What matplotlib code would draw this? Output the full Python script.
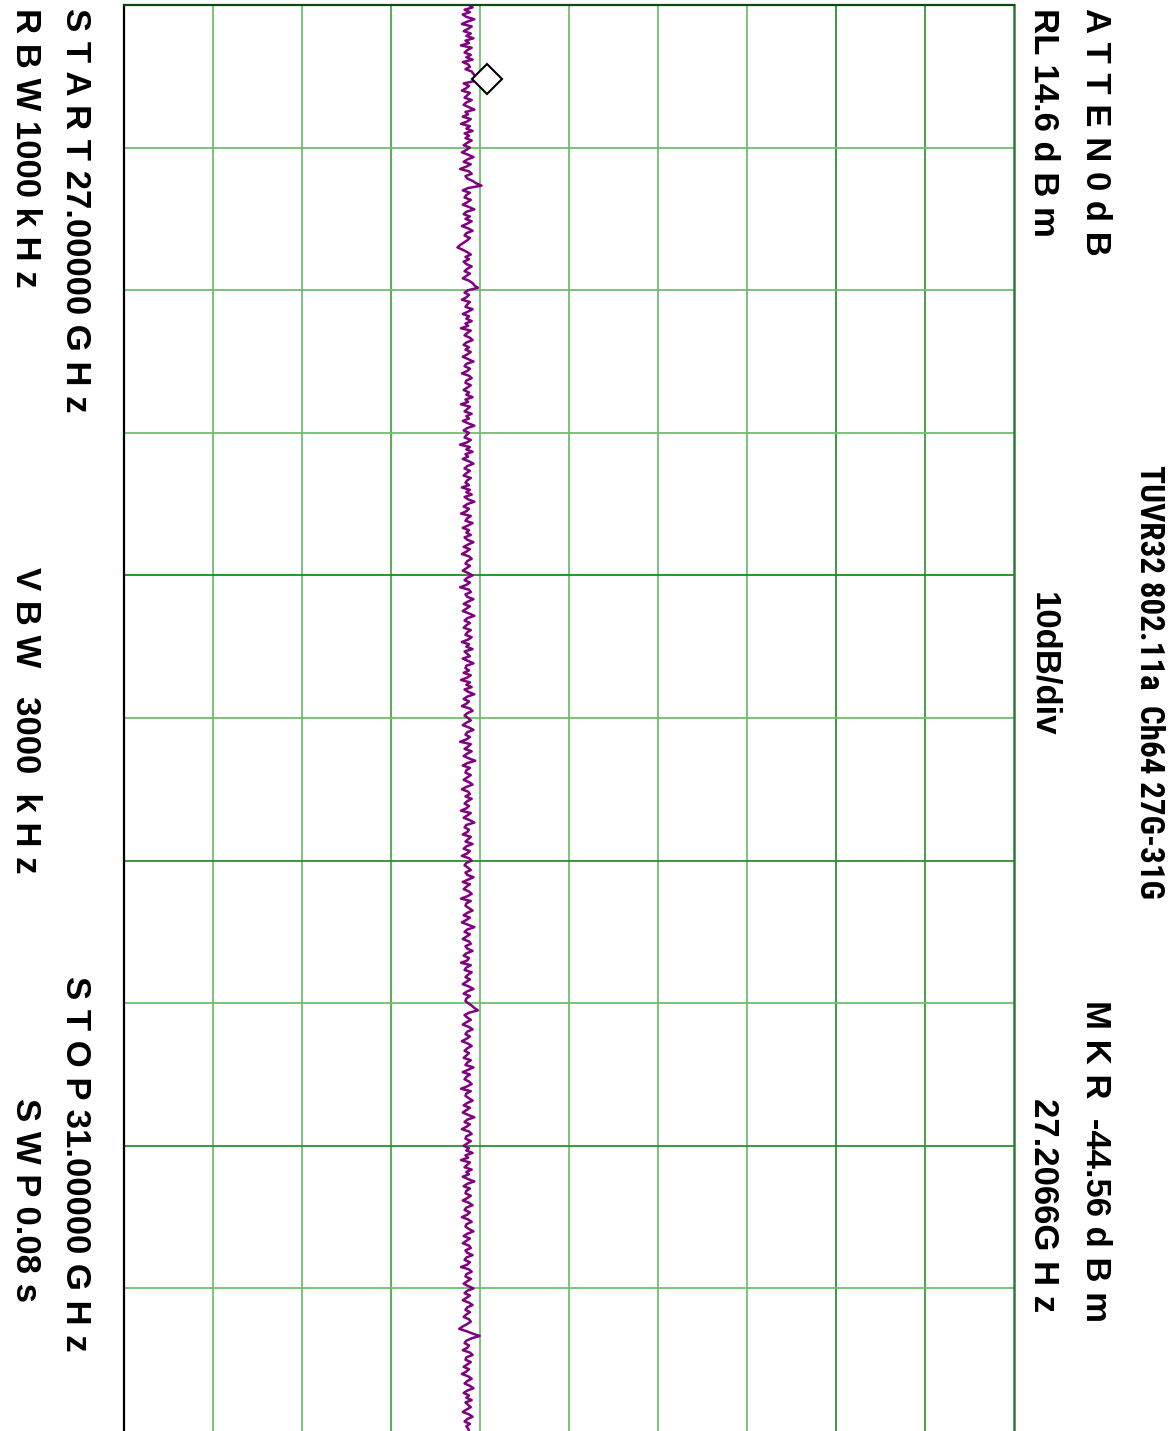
import numpy as np
import matplotlib
matplotlib.use("Agg")
import matplotlib.pyplot as plt
from matplotlib import font_manager
from matplotlib.font_manager import FontProperties

# ---- sweep settings -------------------------------------------------------
START_GHZ = 27.0
STOP_GHZ = 31.0
REF_LEVEL_DBM = 14.6
DB_PER_DIV = 10.0
N_DIV = 10
MARKER_FREQ_GHZ = 27.2066
MARKER_LEVEL_DBM = -44.56

title_text = "TUVR32 802.11a  Ch64 27G-31G"
start_text = "S T A R T 27.00000 G H z"
stop_text = "S T O P 31.00000 G H z"
rbw_text = "R B W 1000 k H z"
vbw_text = "V B W   3000  k H z"
swp_text = "S W P 0.08 s"
atten_text = "A T T E N 0 d B"
rl_text = "RL 14.6 d B m"
scale_text = "10dB/div"
mkr_text = "M K R  -44.56 d B m"
mkr_freq_text = "27.2066G H z"

# measured trace (dBm), 601 sweep points
trace_dbm = [
    -46.6, -46.2, -47.1, -46.5, -47.3, -46.9, -46.0, -46.8, -47.4, -46.3, -46.7, -47.2, -46.4, -46.9, -46.1, -47.0, -46.6, -47.5, -46.3, -46.8,
    -47.1, -46.4, -46.9, -46.2, -47.3, -46.7, -46.5, -47.0, -46.3, -46.1, -45.9, -44.56, -46.0, -47.2, -46.6, -46.9, -47.4, -46.5, -46.8, -47.1,
    -46.3, -46.9, -47.2, -46.6, -46.0, -47.0, -46.7, -47.3, -46.4, -46.8, -47.5, -46.5, -46.9, -46.2, -47.1, -46.6, -47.0, -46.3, -46.8, -47.2,
    -46.5, -46.9, -47.4, -46.7, -46.1, -46.8, -47.2, -46.4, -46.9, -47.6, -46.6, -46.3, -47.0, -46.8, -46.2, -45.8, -45.2, -46.7, -47.3, -46.5,
    -46.9, -47.1, -46.4, -46.8, -47.3, -46.6, -46.0, -46.9, -47.2, -46.5, -47.0, -46.3, -46.8, -47.4, -46.7, -46.2, -46.9, -47.1, -46.5, -46.8,
    -47.2, -47.6, -47.9, -47.3, -46.8, -46.4, -47.0, -46.6, -47.2, -46.9, -46.3, -46.8, -47.1, -46.5, -46.9, -47.3, -46.6, -46.2, -46.0, -45.6,
    -46.7, -47.1, -46.6, -46.9, -47.4, -46.5, -46.8, -47.0, -46.2, -46.7, -47.3, -46.6, -46.9, -46.3, -47.0, -46.7, -47.5, -46.4, -46.8, -47.1,
    -46.5, -46.2, -46.9, -47.2, -46.6, -47.0, -46.4, -46.8, -47.3, -46.7, -46.1, -46.9, -47.1, -46.5, -46.8, -47.4, -46.6, -46.3, -46.9, -47.0,
    -46.4, -46.8, -47.2, -46.6, -46.9, -46.2, -47.0, -46.7, -47.5, -46.5, -46.8, -47.1, -46.3, -46.9, -46.6, -47.3, -46.7, -46.0, -46.8, -47.2,
    -46.6, -46.9, -47.1, -46.4, -46.8, -47.6, -46.5, -46.9, -46.2, -47.0, -46.7, -47.3, -46.6, -46.1, -46.8, -47.1, -46.5, -46.9, -47.2, -46.4,
    -46.8, -47.0, -46.6, -47.4, -46.5, -46.9, -46.3, -47.1, -46.7, -46.0, -46.8, -47.2, -46.6, -46.9, -47.5, -46.4, -46.8, -47.0, -46.2, -46.7,
    -47.3, -46.6, -46.9, -46.4, -47.1, -46.8, -46.1, -46.7, -47.2, -46.5, -46.9, -47.4, -46.6, -46.3, -46.8, -47.0, -46.5, -46.9, -47.3, -46.7,
    -46.2, -46.8, -47.1, -46.5, -46.9, -47.6, -46.6, -46.4, -47.0, -46.8, -46.1, -46.7, -47.2, -46.5, -46.9, -47.3, -46.6, -46.0, -46.8, -47.1,
    -46.5, -46.9, -47.2, -46.4, -46.8, -47.0, -46.3, -46.7, -47.4, -46.6, -46.9, -46.2, -47.1, -46.8, -46.5, -47.3, -46.7, -46.1, -46.9, -47.0,
    -46.6, -47.2, -46.4, -46.8, -47.5, -46.5, -46.9, -46.3, -47.1, -46.7, -46.0, -46.8, -47.2, -46.6, -46.9, -47.4, -46.5, -46.2, -46.8, -47.1,
    -46.7, -46.4, -46.9, -47.3, -46.6, -46.1, -46.8, -47.0, -46.5, -46.9, -47.6, -46.4, -46.7, -47.1, -46.3, -46.8, -47.2, -46.6, -45.9, -46.8,
    -47.3, -46.5, -46.9, -47.0, -46.4, -46.8, -47.2, -46.6, -46.2, -46.9, -47.4, -46.7, -46.5, -47.0, -46.3, -46.8, -47.1, -46.6, -46.9, -47.5,
    -46.4, -46.8, -47.2, -46.5, -46.0, -46.9, -47.1, -46.6, -46.8, -47.3, -46.4, -46.7, -47.0, -46.2, -46.9, -47.2, -46.5, -46.8, -47.4, -46.6,
    -46.3, -46.9, -47.1, -46.7, -46.4, -47.0, -46.8, -46.1, -46.7, -47.3, -46.5, -46.9, -47.2, -46.6, -46.3, -46.8, -47.5, -46.4, -46.9, -47.0,
    -46.6, -46.2, -46.8, -47.2, -46.5, -46.9, -47.4, -46.7, -46.0, -46.8, -47.1, -46.5, -46.9, -47.3, -46.6, -46.4, -47.0, -46.8, -46.2, -46.9,
    -47.2, -46.6, -46.8, -47.5, -46.4, -46.9, -47.1, -46.3, -46.7, -47.0, -46.5, -46.9, -47.3, -46.6, -46.1, -46.8, -47.2, -46.5, -46.9, -47.0,
    -46.7, -46.3, -46.0, -45.6, -46.6, -47.1, -46.8, -46.4, -46.9, -47.3, -46.6, -46.2, -46.8, -47.0, -46.5, -46.9, -47.4, -46.7, -46.3, -46.8,
    -47.1, -46.6, -46.9, -47.2, -46.4, -46.8, -47.0, -46.1, -46.7, -47.3, -46.5, -46.9, -47.1, -46.6, -46.3, -46.8, -47.5, -46.4, -46.9, -47.0,
    -46.6, -46.2, -46.8, -47.2, -46.5, -46.9, -47.3, -46.7, -46.0, -46.8, -47.1, -46.5, -46.9, -47.4, -46.6, -46.3, -46.9, -47.0, -46.4, -46.8,
    -47.2, -46.6, -46.9, -46.2, -47.0, -46.7, -47.5, -46.5, -46.8, -47.1, -46.3, -46.9, -46.6, -47.3, -46.7, -46.0, -46.8, -47.2, -46.5, -46.9,
    -47.0, -46.4, -46.8, -47.3, -46.6, -46.2, -46.9, -47.1, -46.5, -46.8, -47.4, -46.7, -46.3, -46.9, -47.0, -46.6, -46.1, -46.8, -47.2, -46.5,
    -46.9, -47.3, -46.6, -46.4, -47.0, -46.8, -46.2, -46.9, -47.1, -46.5, -46.8, -47.5, -46.6, -46.3, -46.9, -47.0, -46.4, -46.8, -47.2, -46.7,
    -46.1, -46.8, -47.1, -46.5, -46.9, -47.3, -46.6, -46.2, -46.8, -47.0, -46.5, -46.9, -47.2, -46.6, -46.4, -46.8, -47.3, -47.7, -46.9, -46.2,
    -45.4, -46.3, -46.9, -47.1, -46.6, -46.8, -47.3, -46.5, -46.2, -46.9, -47.0, -46.4, -46.8, -47.2, -46.6, -46.9, -47.4, -46.7, -46.3, -46.8,
    -47.1, -46.5, -46.1, -46.8, -47.2, -46.6, -46.9, -46.3, -47.0, -46.7, -46.4, -46.9, -47.3, -46.6, -46.2, -46.8, -47.1, -46.5, -46.9, -46.7,
    -46.6,
]

freq_ghz = np.linspace(START_GHZ, STOP_GHZ, len(trace_dbm))

# ---- figure ---------------------------------------------------------------
W, H, DPI = 1168, 1431, 100
fig = plt.figure(figsize=(W / DPI, H / DPI), dpi=DPI)
fig.patch.set_facecolor("white")

# screen laid on its side: amplitude runs left->right, frequency top->bottom
ax_left, ax_right = 123.5 / W, 1014.0 / W
ax_top = 1 - 5.0 / H
ax = fig.add_axes([ax_left, 0.0, ax_right - ax_left, ax_top])

bottom_dbm = REF_LEVEL_DBM - N_DIV * DB_PER_DIV
ax.set_xlim(bottom_dbm, REF_LEVEL_DBM)
ax.set_ylim(STOP_GHZ, START_GHZ)
ax.set_xticks([])
ax.set_yticks([])

# graticule
amp_lines = [bottom_dbm + i * DB_PER_DIV for i in range(1, N_DIV)]
amp_colors = ["#6fbf6f", "#6fbf6f", "#4aa64a", "#6fbf6f", "#6fbf6f",
              "#6fbf6f", "#6fbf6f", "#2a922a", "#3c9a3c"]
for v, c in zip(amp_lines, amp_colors):
    ax.axvline(v, color=c, lw=1.3, zorder=1)

freq_step = (STOP_GHZ - START_GHZ) / N_DIV
freq_lines = [START_GHZ + i * freq_step for i in range(1, N_DIV)]
freq_colors = ["#6fbf6f", "#6fbf6f", "#6fbf6f", "#1a8c1a", "#6fbf6f",
               "#2a922a", "#6fbf6f", "#2a922a", "#6fbf6f"]
for f, c in zip(freq_lines, freq_colors):
    ax.axhline(f, color=c, lw=1.3, zorder=1)

ax.spines["bottom"].set_visible(False)
ax.spines["left"].set_color("black")
ax.spines["left"].set_linewidth(1.6)
ax.spines["top"].set_color("#0d4a0d")
ax.spines["top"].set_linewidth(1.6)
ax.spines["right"].set_color("#2f7a3a")
ax.spines["right"].set_linewidth(1.8)

# trace and marker
ax.plot(trace_dbm, freq_ghz, color="#800080", lw=1.8, zorder=3)
ax.plot([MARKER_LEVEL_DBM], [MARKER_FREQ_GHZ], marker="D", ms=15,
        mfc="white", mec="black", mew=1.5, ls="none", zorder=4)


# ---- fonts ------------------------------------------------------------------
def find_condensed_bold():
    """Return the file of an installed condensed/narrow bold sans face, if any."""
    prefs = ["liberationsansnarrow-bold", "robotocondensed-bold", "notosans-condensedbold",
             "opensans-condensedbold", "opensanscondensed-bold", "dejavusanscondensed-bold"]
    files = [f.fname for f in font_manager.fontManager.ttflist]
    low = {fn.lower().replace(" ", "").replace("_", "-").split("/")[-1]: fn for fn in files}
    for p in prefs:
        for k, fn in low.items():
            if k.startswith(p) and "italic" not in k and "oblique" not in k:
                return fn
    for f in font_manager.fontManager.ttflist:
        name = f.name.lower()
        w = f.weight if isinstance(f.weight, int) else font_manager.weight_dict.get(f.weight, 400)
        if (("narrow" in name or "condensed" in name or "condensed" in str(f.stretch))
                and w >= 600 and f.style == "normal"):
            return f.fname
    return None


cond_file = find_condensed_bold()
base = dict(rotation=270, rotation_mode="anchor", color="black")


def put(x_px, y_px, s, size=25, ha="left", condensed=False):
    if condensed and cond_file:
        fp = FontProperties(fname=cond_file, size=size)
    else:
        fp = FontProperties(family=["Liberation Sans", "DejaVu Sans"], weight="bold", size=size)
    return fig.text(x_px / W, 1 - y_px / H, s, ha=ha, va="center",
                    fontproperties=fp, **base)


def fit_length(t, target_px):
    """Scale a rotated label's font size so it runs target_px along the page."""
    fig.canvas.draw()
    ext = t.get_window_extent()
    t.set_fontsize(t.get_fontsize() * target_px / ext.height)


put(75, 8, start_text)
put(25, 8, rbw_text)
put(25, 720, vbw_text, ha="center")
put(75, 1352, stop_text, ha="right")
put(25, 1302, swp_text, ha="right")
put(1096, 8, atten_text)
put(1044, 8, rl_text)
put(1044, 592, scale_text, size=25)
title = put(1149, 465, title_text, size=30, condensed=True)
fit_length(title, 435)
put(1096, 1322, mkr_text, ha="right")
put(1044, 1312, mkr_freq_text, ha="right")

fig.savefig("out.png", dpi=DPI, facecolor="white")
